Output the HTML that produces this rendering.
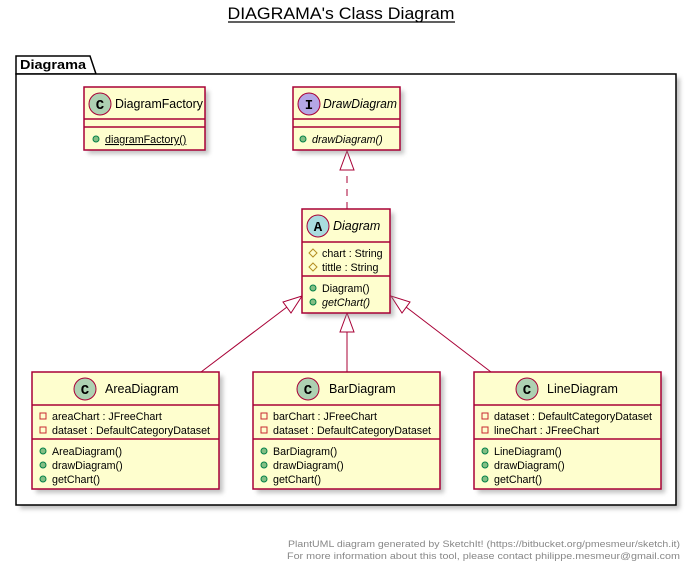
<!DOCTYPE html>
<html><head><meta charset="utf-8"><style>
html,body{margin:0;padding:0;background:#fff;}
svg{display:block;font-family:"Liberation Sans",sans-serif;}
</style></head><body>
<svg width="692" height="566" viewBox="0 0 692 566" xmlns="http://www.w3.org/2000/svg">
<defs>
<filter id="sh" x="-10%" y="-10%" width="130%" height="130%"><feGaussianBlur stdDeviation="2"/></filter>
</defs>
<text x="341" y="19" font-size="17" text-anchor="middle" textLength="227" lengthAdjust="spacingAndGlyphs">DIAGRAMA's Class Diagram</text>
<line x1="228" y1="22" x2="455" y2="22" stroke="#000" stroke-width="1.2"/>

<rect x="20" y="78" width="660" height="431" fill="#999" filter="url(#sh)" opacity="0.6"/>
<path d="M16 74 L16 56 L90 56 L96 74 Z" fill="#fff" stroke="#000" stroke-width="1.5"/>
<rect x="16" y="74" width="660" height="431" fill="#fff" stroke="#000" stroke-width="1.5"/>
<text x="20" y="69" font-size="13" font-weight="bold" textLength="66" lengthAdjust="spacingAndGlyphs">Diagrama</text>

<g stroke="#A80036" stroke-width="1" fill="none">
<line x1="347" y1="209" x2="347" y2="151" stroke-dasharray="7,6"/>
<polygon points="347,151 340,170 354,170" fill="#fff"/>
<line x1="347" y1="372" x2="347" y2="331"/>
<polygon points="347,313 340,332 354,332" fill="#fff"/>
<line x1="201" y1="372" x2="287" y2="307"/>
<polygon points="302,296 283,302 291,313" fill="#fff"/>
<line x1="491" y1="372" x2="406" y2="307"/>
<polygon points="391,296 402,313 410,302" fill="#fff"/>
</g>

<g fill="#888" opacity="0.5" filter="url(#sh)">
<rect x="88" y="91" width="121" height="63"/>
<rect x="297" y="91" width="107" height="63"/>
<rect x="306" y="213" width="88" height="104"/>
<rect x="36" y="376" width="187" height="117"/>
<rect x="257" y="376" width="187" height="117"/>
<rect x="478" y="376" width="187" height="117"/>
</g>
<g fill="#FEFECE" stroke="#A80036" stroke-width="1.5">
<rect x="84" y="87" width="121" height="63"/>
<rect x="293" y="87" width="107" height="63"/>
<rect x="302" y="209" width="88" height="104"/>
<rect x="32" y="372" width="187" height="117"/>
<rect x="253" y="372" width="187" height="117"/>
<rect x="474" y="372" width="187" height="117"/>
</g>
<g stroke="#A80036" stroke-width="1.5">
<line x1="84" y1="119" x2="205" y2="119"/><line x1="84" y1="127" x2="205" y2="127"/>
<line x1="293" y1="119" x2="400" y2="119"/><line x1="293" y1="127" x2="400" y2="127"/>
<line x1="302" y1="242" x2="390" y2="242"/><line x1="302" y1="276" x2="390" y2="276"/>
<line x1="32" y1="405" x2="219" y2="405"/><line x1="32" y1="439" x2="219" y2="439"/>
<line x1="253" y1="405" x2="440" y2="405"/><line x1="253" y1="439" x2="440" y2="439"/>
<line x1="474" y1="405" x2="661" y2="405"/><line x1="474" y1="439" x2="661" y2="439"/>
</g>
<g stroke="#A80036" stroke-width="1">
<circle cx="100" cy="104" r="11" fill="#ADD1B2"/>
<circle cx="309" cy="104" r="11" fill="#B4A7E5"/>
<circle cx="318" cy="226" r="11" fill="#A9DCDF"/>
<circle cx="85" cy="389" r="11" fill="#ADD1B2"/>
<circle cx="308" cy="389" r="11" fill="#ADD1B2"/>
<circle cx="527" cy="389" r="11" fill="#ADD1B2"/>
</g>
<g font-size="14" font-weight="bold" text-anchor="middle" font-family="'Liberation Mono',monospace">
<text x="100" y="109">C</text><text x="309" y="109">I</text><text x="318" y="231">A</text>
<text x="85" y="394">C</text><text x="308" y="394">C</text><text x="527" y="394">C</text>
</g>
<g font-size="12.5">
<text x="115" y="108" textLength="88" lengthAdjust="spacingAndGlyphs">DiagramFactory</text>
<text x="323" y="108" font-style="italic" textLength="74" lengthAdjust="spacingAndGlyphs">DrawDiagram</text>
<text x="333" y="230" font-style="italic">Diagram</text>
<text x="105" y="393">AreaDiagram</text>
<text x="329" y="393">BarDiagram</text>
<text x="547" y="393">LineDiagram</text>
</g>
<g font-size="10.7">
<text x="105" y="143" text-decoration="underline">diagramFactory()</text>
<text x="312" y="143" font-style="italic">drawDiagram()</text>
<text x="322" y="257">chart : String</text>
<text x="322" y="271">tittle : String</text>
<text x="322" y="292">Diagram()</text>
<text x="322" y="306" font-style="italic">getChart()</text>
<text x="52" y="420">areaChart : JFreeChart</text>
<text x="52" y="434">dataset : DefaultCategoryDataset</text>
<text x="52" y="455">AreaDiagram()</text>
<text x="52" y="469">drawDiagram()</text>
<text x="52" y="483">getChart()</text>
<text x="273" y="420">barChart : JFreeChart</text>
<text x="273" y="434">dataset : DefaultCategoryDataset</text>
<text x="273" y="455">BarDiagram()</text>
<text x="273" y="469">drawDiagram()</text>
<text x="273" y="483">getChart()</text>
<text x="494" y="420">dataset : DefaultCategoryDataset</text>
<text x="494" y="434">lineChart : JFreeChart</text>
<text x="494" y="455">LineDiagram()</text>
<text x="494" y="469">drawDiagram()</text>
<text x="494" y="483">getChart()</text>
</g>
<g fill="#84BE84" stroke="#038048" stroke-width="1">
<circle cx="96" cy="139" r="3"/>
<circle cx="303" cy="139" r="3"/>
<circle cx="313" cy="288" r="3"/><circle cx="313" cy="302" r="3"/>
<circle cx="43" cy="451" r="3"/><circle cx="43" cy="465" r="3"/><circle cx="43" cy="479" r="3"/>
<circle cx="264" cy="451" r="3"/><circle cx="264" cy="465" r="3"/><circle cx="264" cy="479" r="3"/>
<circle cx="485" cy="451" r="3"/><circle cx="485" cy="465" r="3"/><circle cx="485" cy="479" r="3"/>
</g>
<g fill="none" stroke="#C82930" stroke-width="1">
<rect x="40" y="413" width="6" height="6"/><rect x="40" y="427" width="6" height="6"/>
<rect x="261" y="413" width="6" height="6"/><rect x="261" y="427" width="6" height="6"/>
<rect x="482" y="413" width="6" height="6"/><rect x="482" y="427" width="6" height="6"/>
</g>
<g fill="none" stroke="#B38D22" stroke-width="1">
<polygon points="313,249 317,253 313,257 309,253"/>
<polygon points="313,263 317,267 313,271 309,267"/>
</g>

<g font-size="9" fill="#888" text-anchor="end">
<text x="680" y="547" textLength="392" lengthAdjust="spacingAndGlyphs">PlantUML diagram generated by SketchIt! (https://bitbucket.org/pmesmeur/sketch.it)</text>
<text x="680" y="559" textLength="393" lengthAdjust="spacingAndGlyphs">For more information about this tool, please contact philippe.mesmeur@gmail.com</text>
</g>
</svg>
</body></html>
